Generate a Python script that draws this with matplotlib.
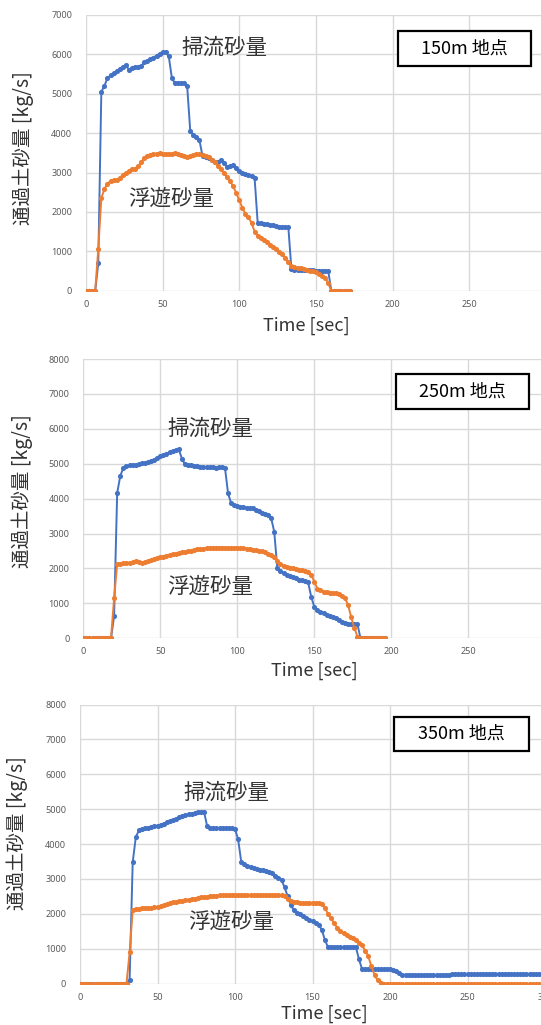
import numpy as np
import matplotlib.pyplot as plt
from matplotlib.patches import Rectangle

plt.rcParams['font.family'] = ['Noto Sans CJK JP', 'DejaVu Sans']

# sampling interval of the series [sec]
DT = 2.0

# 150m point
bed_150 = [
    0, 0, 0, 0, 700, 5050, 5200, 5400, 5470, 5520,
    5570, 5630, 5690, 5730, 5610, 5660, 5670, 5670, 5700, 5800,
    5840, 5880, 5920, 5970, 6020, 6060, 6050, 5950, 5400, 5270,
    5280, 5280, 5280, 5190, 4060, 3960, 3900, 3820, 3420, 3400,
    3380, 3330, 3260, 3280, 3320, 3240, 3150, 3170, 3190, 3120,
    3040, 2980, 2970, 2950, 2900, 2850, 1720, 1710, 1700, 1690,
    1670, 1660, 1640, 1630, 1620, 1620, 1610, 540, 530, 530,
    525, 520, 520, 515, 515, 510, 510, 510, 510, 505,
    0, 0, 0, 0, 0, 0, 0]
sus_150 = [
    0, 0, 0, 0, 1050, 2350, 2580, 2720, 2780, 2800,
    2810, 2870, 2930, 2990, 3040, 3080, 3100, 3160, 3260, 3370,
    3430, 3450, 3460, 3480, 3500, 3470, 3460, 3460, 3470, 3490,
    3470, 3450, 3420, 3400, 3420, 3440, 3460, 3470, 3450, 3420,
    3400, 3330, 3260, 3170, 3090, 2990, 2890, 2780, 2650, 2480,
    2300, 2100, 1960, 1860, 1720, 1500, 1390, 1330, 1280, 1230,
    1170, 1120, 1060, 990, 920, 840, 730, 630, 600, 580,
    565, 545, 530, 510, 490, 470, 430, 380, 330, 190,
    0, 0, 0, 0, 0, 0, 0]

# 250m point
bed_250 = [
    0, 0, 0, 0, 0, 0, 0, 0, 0, 0,
    640, 4160, 4650, 4880, 4930, 4950, 4960, 4970, 4990, 5010,
    5030, 5060, 5080, 5120, 5170, 5210, 5250, 5290, 5330, 5360,
    5380, 5410, 5150, 4980, 4960, 4950, 4940, 4930, 4920, 4910,
    4900, 4900, 4900, 4890, 4900, 4900, 4880, 4150, 3870, 3820,
    3790, 3770, 3760, 3740, 3730, 3720, 3680, 3640, 3600, 3560,
    3520, 3440, 3050, 2000, 1930, 1870, 1820, 1780, 1750, 1720,
    1680, 1660, 1640, 1600, 1190, 900, 800, 760, 720, 680,
    640, 610, 570, 530, 480, 430, 410, 410, 410, 410,
    0, 0, 0, 0, 0, 0, 0, 0, 0]
sus_250 = [
    0, 0, 0, 0, 0, 0, 0, 0, 0, 0,
    1150, 2130, 2140, 2150, 2160, 2170, 2190, 2200, 2180, 2170,
    2190, 2210, 2240, 2270, 2300, 2320, 2340, 2370, 2390, 2410,
    2420, 2440, 2460, 2480, 2500, 2510, 2530, 2550, 2560, 2570,
    2580, 2590, 2600, 2600, 2600, 2600, 2590, 2590, 2590, 2590,
    2590, 2590, 2580, 2570, 2560, 2540, 2520, 2500, 2490, 2460,
    2420, 2380, 2330, 2220, 2120, 2060, 2040, 2020, 2000, 1990,
    1970, 1960, 1940, 1900, 1820, 1620, 1420, 1370, 1340, 1320,
    1310, 1300, 1290, 1270, 1220, 1150, 940, 600, 300, 50,
    0, 0, 0, 0, 0, 0, 0, 0, 0]

# 350m point
bed_350 = [
    0, 0, 0, 0, 0, 0, 0, 0, 0, 0,
    0, 0, 0, 0, 0, 0, 100, 3480, 4200, 4390,
    4430, 4450, 4470, 4490, 4510, 4530, 4560, 4590, 4620, 4660,
    4700, 4730, 4770, 4800, 4830, 4850, 4870, 4890, 4910, 4920,
    4930, 4520, 4470, 4460, 4450, 4450, 4450, 4450, 4450, 4450,
    4430, 4140, 3500, 3420, 3370, 3340, 3310, 3290, 3270, 3250,
    3230, 3210, 3160, 3100, 3040, 2970, 2760, 2500, 2260, 2100,
    2040, 1990, 1930, 1870, 1830, 1790, 1740, 1680, 1550, 1250,
    1050, 1040, 1040, 1040, 1040, 1040, 1040, 1040, 1040, 1040,
    700, 410, 410, 410, 410, 410, 410, 410, 410, 410,
    410, 390, 350, 300, 260, 250, 245, 245, 245, 245,
    245, 245, 245, 245, 245, 245, 245, 245, 245, 250,
    270, 270, 270, 270, 270, 270, 270, 270, 270, 270,
    270, 270, 270, 270, 270, 270, 270, 270, 270, 270,
    270, 270, 270, 270, 270, 270, 270, 270, 270]
sus_350 = [
    0, 0, 0, 0, 0, 0, 0, 0, 0, 0,
    0, 0, 0, 0, 0, 0, 900, 2110, 2140, 2150,
    2160, 2170, 2170, 2180, 2190, 2200, 2220, 2250, 2280, 2310,
    2330, 2350, 2360, 2380, 2400, 2410, 2430, 2440, 2460, 2470,
    2480, 2490, 2500, 2510, 2520, 2530, 2530, 2540, 2540, 2540,
    2540, 2540, 2540, 2540, 2540, 2540, 2540, 2540, 2540, 2540,
    2540, 2540, 2540, 2540, 2540, 2530, 2500, 2430, 2380, 2350,
    2330, 2320, 2310, 2300, 2300, 2300, 2300, 2300, 2290, 2170,
    2000, 1880, 1730, 1600, 1510, 1440, 1390, 1340, 1300, 1240,
    1180, 1100, 950, 780, 500, 250, 100, 20, 0, 0,
    0, 0, 0, 0, 0, 0, 0, 0, 0, 0,
    0, 0, 0, 0, 0, 0, 0, 0, 0, 0,
    0, 0, 0, 0, 0, 0, 0, 0, 0, 0,
    0, 0, 0, 0, 0, 0, 0, 0, 0, 0,
    0, 0, 0, 0, 0, 0, 0, 0, 0]

site_labels = ['150m 地点', '250m 地点', '350m 地点']
y_max = [7000, 8000, 8000]
x_ticks = [[0, 50, 100, 150, 200, 250],
           [0, 50, 100, 150, 200, 250],
           [0, 50, 100, 150, 200, 250, 300]]

BLUE = '#4472C4'
ORANGE = '#ED7D31'
GRID = '#d9d9d9'
TICK = '#595959'
TEXT = '#333333'

W, H = 541, 1025
fig = plt.figure(figsize=(W / 100, H / 100), dpi=100)


def fx(x):
    return x / W


def fy(y):
    return 1 - y / H


# layout in pixels: t=0 x, px per sec, y of 0, y of top, box, labels
layout = [
    dict(x0=86, pps=1.533, y0=290.7, ytop=15, box=(397.5, 31, 530.7, 65.7),
         bed_lbl=(224, 47.5), sus_lbl=(171, 199), ylab=(23, 148), xlab=(306, 326)),
    dict(x0=83.3, pps=1.54, y0=638.3, ytop=359, box=(396, 374.3, 529, 409.3),
         bed_lbl=(210, 428.5), sus_lbl=(210, 587), ylab=(22, 491), xlab=(314, 671)),
    dict(x0=80, pps=1.55, y0=983.7, ytop=704.5, box=(394.4, 716.7, 528.6, 751),
         bed_lbl=(226, 793), sus_lbl=(231, 922), ylab=(17, 833), xlab=(324, 1014)),
]

series = [(bed_150, sus_150), (bed_250, sus_250), (bed_350, sus_350)]

for i, (lay, (bed, sus)) in enumerate(zip(layout, series)):
    ax = fig.add_axes([fx(lay['x0']), fy(lay['y0']),
                       300 * lay['pps'] / W, (lay['y0'] - lay['ytop']) / H])
    t_bed = DT * np.arange(len(bed))
    t_sus = DT * np.arange(len(sus))
    ax.plot(t_bed, bed, color=BLUE, lw=1.4, marker='o', ms=3.7, mew=0, zorder=3)
    ax.plot(t_sus, sus, color=ORANGE, lw=1.4, marker='o', ms=3.7, mew=0, zorder=4)

    ax.set_xlim(0, 300)
    ax.set_ylim(0, y_max[i])
    ax.set_xticks(x_ticks[i])
    ax.set_yticks(np.arange(0, y_max[i] + 1, 1000))
    ax.grid(True, color=GRID, lw=1.0, zorder=0)
    ax.set_axisbelow(True)
    for s in ax.spines.values():
        s.set_visible(False)
    ax.tick_params(length=0, labelsize=6.5, labelcolor=TICK)
    ax.tick_params(axis='y', pad=10)
    ax.tick_params(axis='x', pad=6.5)
    for lbl in ax.get_xticklabels() + ax.get_yticklabels():
        lbl.set_family('Noto Sans')

    # site box
    bx0, by0, bx1, by1 = lay['box']
    fig.patches.append(Rectangle((fx(bx0), fy(by1)), fx(bx1 - bx0), (by1 - by0) / H,
                                 transform=fig.transFigure, fill=True, fc='white',
                                 ec='black', lw=1.6, zorder=5))
    fig.text(fx((bx0 + bx1) / 2), fy((by0 + by1) / 2), site_labels[i],
             ha='center', va='center', fontsize=13, color='black', zorder=6)

    fig.text(fx(lay['bed_lbl'][0]), fy(lay['bed_lbl'][1]), '掃流砂量',
             ha='center', va='center', fontsize=15.5, color=TEXT)
    fig.text(fx(lay['sus_lbl'][0]), fy(lay['sus_lbl'][1]), '浮遊砂量',
             ha='center', va='center', fontsize=15.5, color=TEXT)
    fig.text(fx(lay['ylab'][0]), fy(lay['ylab'][1]), '通過土砂量 [kg/s]',
             ha='center', va='center', rotation=90, fontsize=14, color=TEXT)
    fig.text(fx(lay['xlab'][0]), fy(lay['xlab'][1]), 'Time [sec]',
             ha='center', va='center', fontsize=13, color=TEXT)

fig.savefig('out.png', dpi=100)
